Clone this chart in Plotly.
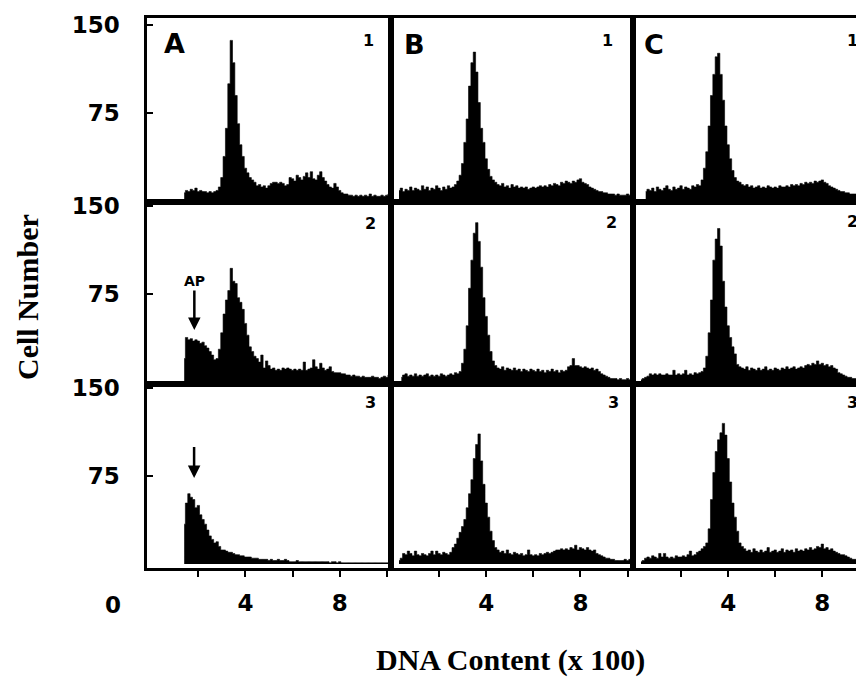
import plotly.graph_objects as go

# ---------------- data (cell counts per DNA channel, bin width 0.1 x100) ----------------
BIN = 0.1
tick_vals_x = [2, 4, 6, 8, 10]
tick_text_x = ["", "4", "", "8", ""]
tick_vals_y = [75, 150]
tick_text_y = ["75", "150"]
panel_letters = ["A", "B", "C"]
row_numbers = ["1", "2", "3"]

A1_start = 1.4
A1_counts = [7, 9, 8, 10, 9, 11, 8, 9, 8, 8, 7, 8, 7, 8, 9, 12, 20, 38, 62, 100,
             137, 118, 90, 66, 48, 38, 28, 24, 20, 18, 16, 13, 14, 12, 13, 11, 13, 15, 16, 16,
             15, 16, 15, 13, 14, 20, 19, 17, 22, 20, 18, 21, 24, 20, 25, 19, 18, 22, 25, 20,
             17, 14, 12, 11, 15, 12, 9, 7, 6, 6, 5, 5, 4, 5, 4, 5, 4, 5, 4, 6,
             4, 5, 4, 4, 5, 4, 5, 6]
A2_start = 1.4
A2_counts = [20, 38, 36, 37, 35, 36, 35, 33, 34, 31, 29, 26, 23, 19, 20, 28, 42, 58, 70, 78,
             97, 86, 84, 72, 68, 62, 50, 40, 30, 26, 22, 20, 17, 23, 12, 18, 14, 11, 12, 10,
             11, 10, 12, 11, 12, 11, 10, 11, 10, 11, 10, 17, 10, 11, 12, 19, 13, 11, 16, 12,
             10, 11, 13, 9, 8, 8, 8, 7, 7, 6, 6, 5, 6, 5, 5, 4, 5, 4, 4, 4,
             5, 4, 4, 3, 4, 5, 4, 6]
A3_start = 1.4
A3_counts = [34, 52, 60, 57, 55, 48, 50, 42, 38, 34, 29, 24, 21, 18, 19, 15, 12, 12, 11, 10,
             10, 9, 8, 8, 7, 7, 6, 6, 6, 5, 5, 5, 4, 4, 4, 4, 3, 4, 3, 3,
             4, 3, 3, 4, 3, 2, 2, 2, 3, 2, 2, 2, 2, 2, 2, 2, 2, 2, 2, 2,
             2, 2, 1, 2, 2, 1, 2, 1, 1, 1, 1, 1, 1, 1, 1, 1, 1, 1, 1, 1,
             1, 1, 1, 1, 1, 1, 1, 1]
B1_start = 0.3
B1_counts = [9, 11, 8, 10, 9, 12, 9, 11, 10, 9, 13, 10, 12, 9, 11, 10, 13, 11, 9, 12,
             10, 13, 11, 12, 14, 17, 22, 32, 50, 70, 98, 118, 127, 110, 84, 62, 50, 36, 27, 21,
             18, 16, 14, 13, 15, 12, 13, 11, 14, 12, 13, 11, 12, 11, 12, 10, 11, 12, 11, 12,
             13, 12, 13, 12, 14, 13, 15, 14, 13, 16, 15, 17, 16, 15, 17, 16, 18, 19, 16, 15,
             14, 12, 11, 10, 9, 8, 8, 7, 7, 6, 6, 6, 5, 6, 5, 5, 5, 6, 5, 5]
B2_start = 0.4
B2_counts = [4, 6, 7, 5, 6, 5, 7, 5, 6, 5, 6, 7, 5, 6, 5, 6, 5, 7, 6, 5,
             6, 7, 6, 8, 7, 9, 16, 28, 48, 80, 104, 127, 136, 120, 98, 72, 56, 40, 26, 18,
             14, 12, 11, 13, 10, 12, 11, 10, 12, 10, 11, 9, 11, 10, 9, 11, 10, 9, 11, 9,
             10, 8, 10, 9, 11, 9, 10, 8, 10, 9, 10, 13, 14, 20, 14, 14, 13, 12, 13, 12,
             11, 12, 10, 11, 9, 7, 6, 5, 4, 3, 3, 3, 2, 3, 2, 2, 3, 2, 2]
B3_start = 0.3
B3_counts = [3, 5, 9, 8, 11, 9, 7, 11, 8, 7, 9, 8, 7, 9, 11, 8, 11, 9, 8, 10,
             9, 8, 10, 14, 17, 22, 27, 32, 38, 48, 60, 72, 90, 102, 111, 88, 68, 52, 40, 28,
             20, 14, 12, 10, 11, 9, 12, 9, 8, 10, 9, 8, 9, 7, 8, 12, 8, 7, 8, 7,
             9, 8, 9, 10, 9, 10, 11, 12, 12, 13, 12, 13, 12, 14, 13, 16, 12, 14, 13, 12,
             14, 12, 11, 12, 9, 8, 7, 6, 5, 5, 4, 4, 3, 3, 3, 3, 4, 3, 4, 4]
C1_start = 0.5
C1_counts = [8, 10, 9, 11, 8, 12, 10, 9, 11, 13, 10, 9, 12, 10, 11, 13, 10, 12, 11, 10,
             13, 12, 14, 13, 18, 28, 42, 64, 90, 108, 123, 126, 108, 86, 64, 48, 36, 26, 20, 17,
             16, 14, 13, 14, 12, 13, 11, 12, 13, 11, 12, 11, 13, 12, 11, 12, 11, 13, 12, 12,
             13, 12, 14, 13, 14, 13, 15, 14, 16, 15, 16, 15, 17, 16, 17, 18, 16, 15, 13, 12,
             11, 10, 9, 8, 8, 7, 7, 6, 6, 6, 5, 6, 5, 5]
C2_start = 0.3
C2_counts = [2, 3, 4, 5, 7, 6, 7, 6, 7, 6, 6, 7, 6, 6, 10, 6, 7, 6, 7, 10,
             6, 7, 6, 8, 7, 8, 9, 12, 22, 42, 70, 104, 122, 131, 116, 86, 64, 48, 38, 30,
             24, 15, 13, 12, 11, 13, 10, 12, 11, 10, 12, 10, 11, 13, 10, 11, 10, 12, 11, 10,
             12, 11, 13, 11, 12, 13, 11, 12, 13, 12, 14, 15, 14, 16, 15, 18, 15, 16, 14, 15,
             13, 14, 12, 11, 8, 7, 6, 5, 4, 4, 3, 3, 3, 2, 2, 2]
C3_start = 0.3
C3_counts = [2, 3, 5, 6, 5, 7, 6, 5, 9, 6, 9, 6, 5, 6, 5, 7, 6, 6, 7, 6,
             8, 11, 7, 8, 10, 11, 13, 15, 18, 30, 55, 78, 96, 106, 112, 120, 110, 90, 70, 52,
             40, 28, 18, 15, 13, 11, 12, 10, 13, 11, 10, 12, 10, 11, 14, 10, 11, 12, 10, 11,
             13, 10, 12, 11, 12, 10, 13, 11, 12, 11, 13, 12, 14, 12, 13, 15, 14, 17, 13, 14,
             12, 13, 11, 10, 9, 8, 8, 7, 6, 5, 4, 4, 3, 3, 3, 3]

panels = [
    [(A1_start, A1_counts), (B1_start, B1_counts), (C1_start, C1_counts)],
    [(A2_start, A2_counts), (B2_start, B2_counts), (C2_start, C2_counts)],
    [(A3_start, A3_counts), (B3_start, B3_counts), (C3_start, C3_counts)],
]

# ---------------- layout geometry (screen pixels; page body adds an 8px offset) ----------------
W, H = 864, 690
OFF = 8
col_px = [(147, 391), (391, 633), (633, 864)]
row_px = [(18, 202), (202, 384), (384, 568)]
x_ranges = [[-0.18, 10.18], [-0.04, 10.23], [-0.04, 9.77]]
y_ranges = [[-0.85, 156.1], [-1.7, 153.6], [-3.4, 153.6]]


def px2x(px):
    return (px - OFF) / W


def px2y(py):
    return 1 - (py - OFF) / H


BOLD_SANS = "DejaVu Sans"
SERIF = "Liberation Serif"

fig = go.Figure()
layout = dict(
    width=W, height=H,
    margin=dict(l=0, r=0, t=0, b=0, autoexpand=False),
    paper_bgcolor="white", plot_bgcolor="white",
    showlegend=False, hovermode=False,
)

for r in range(3):
    for c in range(3):
        k = r * 3 + c + 1
        sfx = "" if k == 1 else str(k)
        start, counts = panels[r][c]
        bins = [round(start + BIN * i, 2) for i in range(len(counts))]
        fig.add_trace(go.Scatter(
            x=bins, y=counts, mode="lines",
            line=dict(color="black", width=0.6, shape="hvh"),
            fill="tozeroy", fillcolor="black",
            xaxis="x" + sfx, yaxis="y" + sfx,
        ))
        xa = dict(
            domain=[px2x(col_px[c][0]), min(1.0, px2x(col_px[c][1]))], range=x_ranges[c],
            anchor="y" + sfx, showline=True, linecolor="black", linewidth=2.5,
            mirror=True, showgrid=False, zeroline=False, fixedrange=True, automargin=False,
        )
        if r == 2:
            xa.update(ticks="outside", ticklen=6, tickwidth=2, tickcolor="black",
                      tickvals=tick_vals_x, ticktext=tick_text_x,
                      tickfont=dict(family=BOLD_SANS, size=23, color="black", weight="bold"),
                      ticklabelstandoff=7)
        else:
            xa.update(ticks="", showticklabels=False)
        ya = dict(
            domain=[px2y(row_px[r][1]), px2y(row_px[r][0])], range=y_ranges[r],
            anchor="x" + sfx, showline=True, linecolor="black", linewidth=2.5,
            mirror=(c < 2), showgrid=False, zeroline=False, fixedrange=True, automargin=False,
        )
        if c == 0:
            ya.update(ticks="inside", ticklen=6, tickwidth=2, tickcolor="black",
                      tickvals=tick_vals_y, ticktext=tick_text_y,
                      tickfont=dict(family=BOLD_SANS, size=23, color="black", weight="bold"),
                      ticklabelstandoff=20)
        else:
            ya.update(ticks="", showticklabels=False)
        layout["xaxis" + sfx] = xa
        layout["yaxis" + sfx] = ya

annotations = []
# panel letters
letter_pos = [(174, 43), (414, 44), (654, 44)]
for (px, py), t in zip(letter_pos, panel_letters):
    annotations.append(dict(x=px2x(px), y=px2y(py), xref="paper", yref="paper", text=t,
                            showarrow=False, xanchor="center", yanchor="middle",
                            font=dict(family=BOLD_SANS, size=27, color="black", weight="bold")))
# row numbers
num_pos = [
    [(368, 40), (607, 41), (852, 41)],
    [(370, 224), (611, 222), (852, 221)],
    [(370, 402), (613, 402), (852, 402)],
]
for r in range(3):
    for c in range(3):
        px, py = num_pos[r][c]
        annotations.append(dict(x=px2x(px), y=px2y(py), xref="paper", yref="paper",
                                text=row_numbers[r], showarrow=False,
                                xanchor="center", yanchor="middle",
                                font=dict(family=BOLD_SANS, size=16, color="black", weight="bold")))
# apoptotic peak markers
annotations.append(dict(x=1.83, y=44.4, xref="x4", yref="y4", text="AP", showarrow=True,
                        ax=0, ay=-49, arrowhead=2, arrowsize=1, arrowwidth=2.5,
                        arrowcolor="black", standoff=0,
                        font=dict(family=BOLD_SANS, size=14, color="black", weight="bold")))
annotations.append(dict(x=1.82, y=73.4, xref="x7", yref="y7", text=" ", showarrow=True,
                        ax=0, ay=-36, arrowhead=2, arrowsize=1, arrowwidth=2.5,
                        arrowcolor="black", standoff=0,
                        font=dict(family=BOLD_SANS, size=6, color="black")))
# origin label
annotations.append(dict(x=px2x(113), y=px2y(605), xref="paper", yref="paper", text="0",
                        showarrow=False, xanchor="center", yanchor="middle",
                        font=dict(family=BOLD_SANS, size=23, color="black", weight="bold")))
# axis titles
annotations.append(dict(x=px2x(510), y=px2y(660), xref="paper", yref="paper",
                        text="DNA Content (x 100)", showarrow=False,
                        xanchor="center", yanchor="middle",
                        font=dict(family=SERIF, size=30, color="black", weight="bold")))
annotations.append(dict(x=px2x(28), y=px2y(297), xref="paper", yref="paper",
                        text="Cell Number", showarrow=False, textangle=-90,
                        xanchor="center", yanchor="middle",
                        font=dict(family=SERIF, size=30, color="black", weight="bold")))
layout["annotations"] = annotations

fig.update_layout(**layout)
fig.write_html("out.html")
